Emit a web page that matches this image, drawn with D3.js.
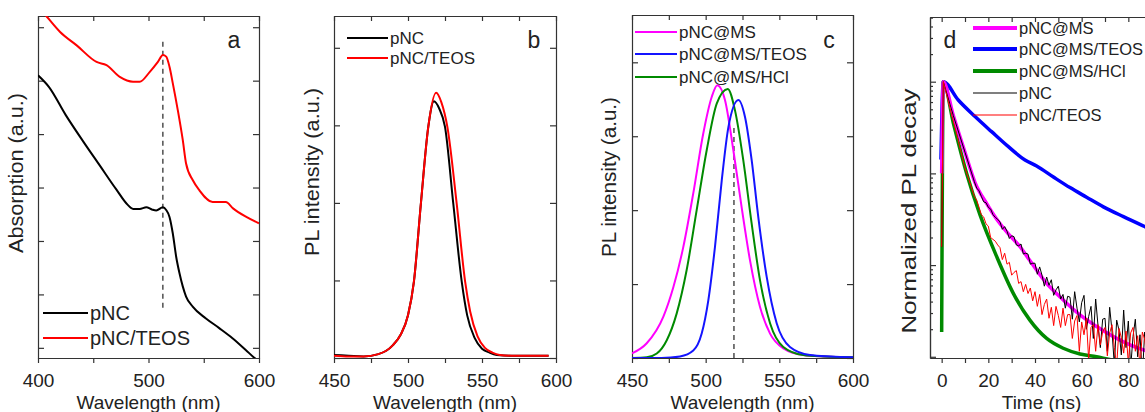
<!doctype html>
<html>
<head>
<meta charset="utf-8">
<script src="https://cdn.jsdelivr.net/npm/d3@7"></script>
<style>
    body { margin: 0; background: #fff; }
    text { font-family: "Liberation Sans", Arial, Helvetica, sans-serif; fill: #222; }
</style>
</head>
<body>
<svg width="1145" height="412"></svg>
<script>

// ---------- panel a : absorption ----------
var absPncWl  = [400, 410, 425, 441, 456, 471, 481, 486, 492, 498, 503, 507, 513, 516, 519, 522, 525, 528, 531, 534, 540, 552, 564, 576, 588, 596, 600];
var absPnc    = [5.10, 4.88, 4.36, 3.86, 3.41, 2.96, 2.68, 2.60, 2.60, 2.63, 2.59, 2.57, 2.63, 2.58, 2.45, 2.14, 1.71, 1.40, 1.15, 0.96, 0.77, 0.55, 0.37, 0.18, -0.04, -0.19, -0.25];
var absTeosWl = [400, 407.5, 420, 435, 453, 462, 474, 486, 492, 501, 508.5, 513, 516, 519, 522, 526.5, 531, 534, 540, 546, 558, 570, 576.5, 588.5, 600];
var absTeos   = [6.40, 6.21, 5.91, 5.66, 5.35, 5.29, 5.07, 4.98, 4.98, 5.16, 5.35, 5.48, 5.45, 5.26, 4.95, 4.45, 3.89, 3.45, 3.14, 2.95, 2.73, 2.73, 2.61, 2.45, 2.33];
var absMark = 513, absMarkRange = [0.75, 5.79];
var absXTicks = [400, 450, 500, 550, 600], absXLabels = [400, 500, 600];
var absYTicks = [0, 1, 2, 3, 4, 5, 6];

// ---------- panel b : PL of pNC ----------
var plPncWl  = [450, 460, 470, 480, 485, 490, 495, 500, 504, 508.7, 513.7, 517.5, 521, 525, 530.6, 536.3, 540, 545, 550, 555, 560, 570, 580, 595];
var plPnc    = [0.04, 0.03, 0.02, 0.05, 0.09, 0.17, 0.30, 0.55, 0.985, 1.99, 2.98, 3.31, 3.22, 2.98, 1.99, 0.985, 0.55, 0.26, 0.12, 0.07, 0.04, 0.03, 0.03, 0.03];
var plTeosWl = [450, 460, 470, 480, 485, 490, 495, 500, 504, 508.7, 513.7, 519, 522.5, 526.6, 532.9, 538.6, 542, 547, 552, 557, 562, 570, 580, 595];
var plTeos   = [0.03, 0.02, 0.02, 0.05, 0.09, 0.17, 0.30, 0.55, 0.985, 1.99, 2.98, 3.42, 3.30, 2.98, 1.99, 0.985, 0.60, 0.28, 0.13, 0.07, 0.04, 0.03, 0.03, 0.03];
var plXTicks = [450, 475, 500, 525, 550, 575, 600], plXLabels = [450, 500, 550, 600];
var plYTicks = [0, 1, 2, 3, 4];

// ---------- panel c : PL of pNC@MS ----------
var msWl    = [450, 460, 471.3, 478.1, 484.8, 491.6, 498.4, 504.1, 507.9, 513.1, 518.8, 524.4, 530.1, 536.9, 543.7, 552.7, 566.3, 580, 600];
var ms      = [0.063, 0.20, 0.56, 0.96, 1.50, 2.23, 3.04, 3.53, 3.69, 3.49, 2.81, 2.04, 1.32, 0.69, 0.33, 0.13, 0.04, 0.02, 0.01];
var msTeosWl = [450, 470, 482.6, 491.6, 497.3, 501.8, 506.3, 510.9, 515.4, 522.2, 526.7, 531.2, 535.7, 541.4, 548.2, 557.2, 570.8, 585, 600];
var msTeos   = [0, 0, 0.02, 0.10, 0.33, 0.78, 1.50, 2.40, 3.12, 3.49, 3.26, 2.68, 1.91, 1.10, 0.47, 0.15, 0.04, 0.02, 0.01];
var msHclWl  = [450, 460, 466.8, 473.6, 480.3, 487.1, 493.9, 500.7, 507.5, 515.0, 519.9, 525.5, 531.2, 536.9, 543.7, 552.7, 566.3, 580, 600];
var msHcl    = [0, 0.01, 0.06, 0.24, 0.60, 1.19, 2.00, 2.81, 3.44, 3.64, 3.35, 2.68, 1.82, 1.05, 0.47, 0.15, 0.04, 0.02, 0.01];
var msMark = 519.2, msMarkRange = [0, 3.13];

// ---------- panel d : PL decay (log10 of normalized counts) ----------
var decayXTicks = [0, 10, 20, 30, 40, 50, 60, 70, 80, 90, 100], decayXLabels = [0, 20, 40, 60, 80];
var decayYTicks = [0.001, 0.01, 0.1, 1];

var decMsT    = [0, 0.7, 5, 10, 14.3, 19.3, 23.6, 28.6, 33.6, 37.8, 45, 52.1, 59.3, 66.4, 73.6, 80.7, 87.1, 100];
var decMs     = [-1.0, 0, -0.37, -0.77, -1.1, -1.33, -1.5, -1.66, -1.8, -1.95, -2.2, -2.38, -2.544, -2.67, -2.78, -2.87, -2.93, -3.02];
var decTeosT  = [-0.3, 0.7, 7.1, 14.3, 21.4, 28.6, 35.7, 40.7, 47.9, 55, 62.1, 69.3, 77.9, 87.1, 100];
var decTeos   = [-0.85, 0, -0.2, -0.38, -0.545, -0.709, -0.854, -0.92, -1.04, -1.155, -1.26, -1.365, -1.472, -1.581, -1.73];
var decHclT   = [0, 0.7, 5, 10.7, 16.4, 23.6, 30.7, 37.8, 45, 52.1, 59.3, 66.4, 72, 100];
var decHcl    = [-2.73, 0, -0.45, -1.0, -1.45, -1.908, -2.308, -2.6, -2.8, -2.907, -2.97, -3.0, -3.03, -3.1];

var decNoisyT = [0, 0.7, 5, 10,
    14, 15, 16, 17, 18, 19, 20, 21, 22, 23, 24, 25, 26, 27, 28, 29, 30, 31, 32, 33, 34, 35, 36, 37, 38, 39,
    40, 41, 42, 43, 44, 45, 46, 47, 48, 49, 50, 51, 52, 53, 54, 55, 56, 57, 58, 59, 60, 61, 62, 63, 64, 65, 66, 67, 68, 69,
    70, 71, 72, 73, 74, 75, 76, 77, 78, 79, 80, 81, 82, 83, 84, 85, 86, 87, 88, 89, 90, 91, 92, 93, 94, 95, 96, 97, 98, 99, 100];
var decPnc = [-1.8, 0, -0.37, -0.77,
    -1.09, -1.16, -1.19, -1.25, -1.31, -1.32, -1.37, -1.39, -1.45, -1.48, -1.50,
    -1.53, -1.61, -1.58, -1.63, -1.71, -1.68, -1.69, -1.78, -1.79, -1.77, -1.88, -1.87, -1.88, -1.99, -1.98,
    -1.98, -2.10, -2.02, -2.11, -2.23, -2.13, -2.22, -2.16, -2.33, -2.27, -2.23, -2.37, -2.32, -2.47, -2.34,
    -2.35, -2.59, -2.29, -2.47, -2.62, -2.41, -2.33, -2.70, -2.56, -2.45, -2.80, -2.37, -2.66, -2.90, -2.59,
    -2.58, -2.94, -2.46, -2.72, -3.09, -2.60, -2.71, -2.98, -2.49, -2.90, -2.61, -3.12, -2.78, -2.59, -3.00, -2.76,
    -3.22, -2.73, -2.89, -2.60, -3.15, -2.86, -3.07, -2.72, -3.28, -2.84, -2.94, -3.20, -2.71, -3.06, -2.92];
var decPncTeos = [-1.8, 0, -0.43, -0.94,
    -1.25, -1.29, -1.37, -1.45, -1.475, -1.55, -1.575, -1.70, -1.72, -1.74, -1.78,
    -1.81, -1.94, -1.87, -1.99, -1.97, -2.11, -2.08, -2.06, -2.20, -2.18, -2.29, -2.21, -2.31, -2.25, -2.39,
    -2.29, -2.45, -2.32, -2.54, -2.43, -2.37, -2.58, -2.46, -2.66, -2.45, -2.55, -2.68, -2.47, -2.66, -2.54,
    -2.54, -2.80, -2.61, -2.55, -2.94, -2.62, -2.76, -2.58, -3.03, -2.68, -2.65, -2.94, -2.65, -2.87, -2.73,
    -2.68, -2.99, -2.74, -2.65, -2.90, -3.10, -2.69, -2.79, -2.96, -2.72, -3.07, -2.74, -2.68, -2.94, -2.77, -3.12,
    -2.73, -2.81, -3.01, -2.71, -2.91, -2.68, -3.11, -2.79, -2.74, -2.99, -2.72, -2.89, -3.09, -2.74, -2.84];

var svg = d3.select("svg");
var axisColor = "#333";

// frame with ticks on all four sides, returns a clipped group for the curves
function makePanel(name, x, y, opt) {
    var g = svg.append("g").attr("class", "panel-" + name);
    var xl = x.range()[0], xr = x.range()[1], yb = y.range()[0], yt = y.range()[1];

    g.append("clipPath").attr("id", "clip-" + name)
     .append("rect").attr("x", xl).attr("y", yt).attr("width", xr - xl).attr("height", yb - yt);

    g.append("g").attr("transform", "translate(0," + yb + ")")
     .call(d3.axisBottom(x).tickValues(opt.xTicks).tickSizeInner(5).tickSizeOuter(0).tickPadding(10.5)
           .tickFormat(function(d) { return opt.xLabels.indexOf(d) >= 0 ? d : ""; }));
    g.append("g").attr("transform", "translate(0," + yt + ")")
     .call(d3.axisTop(x).tickValues(opt.xTicks).tickSizeInner(-5).tickSizeOuter(0).tickFormat(""));
    g.append("g").attr("transform", "translate(" + xl + ",0)")
     .call(d3.axisLeft(y).tickValues(opt.yTicks).tickSizeInner(-6).tickSizeOuter(0).tickFormat(""));
    g.append("g").attr("transform", "translate(" + xr + ",0)")
     .call(d3.axisRight(y).tickValues(opt.yTicks).tickSizeInner(-6).tickSizeOuter(0).tickFormat(""));
    if (opt.minorY) {
        g.append("g").attr("transform", "translate(" + xl + ",0)")
         .call(d3.axisLeft(y).tickValues(opt.minorY).tickSizeInner(-3).tickSizeOuter(0).tickFormat(""));
    }

    g.selectAll(".domain, .tick line").attr("stroke", axisColor).attr("stroke-width", 1.2);
    g.selectAll(".tick text").attr("font-size", 19).attr("fill", "#222")
     .attr("font-family", "'Liberation Sans', Arial, sans-serif");

    g.append("text").attr("x", (xl + xr) / 2 + (opt.xTitleShift || 0)).attr("y", 408.5)
     .attr("text-anchor", "middle").attr("font-size", 19).text(opt.xTitle);
    g.append("text")
     .attr("transform", "translate(" + opt.yTitleX + "," + opt.yTitleY + ") rotate(-90)")
     .attr("text-anchor", "middle").attr("font-size", 20)
     .attr("textLength", opt.yTitleLen).attr("lengthAdjust", "spacingAndGlyphs")
     .text(opt.yTitle);
    g.append("text").attr("x", opt.letterX).attr("y", 48).attr("text-anchor", "middle")
     .attr("font-size", 23).text(opt.letter);

    return g.append("g").attr("clip-path", "url(#clip-" + name + ")");
}

function curve(plot, x, y, xs, ys, color, width, interp) {
    var line = d3.line()
        .x(function(d) { return x(d[0]); })
        .y(function(d) { return y(d[1]); })
        .curve(interp || d3.curveMonotoneX);
    plot.append("path").datum(d3.zip(xs, ys))
        .attr("fill", "none").attr("stroke", color).attr("stroke-width", width)
        .attr("stroke-linejoin", "round").attr("d", line);
}

function marker(plot, x, y, at, range) {
    plot.append("line")
        .attr("x1", x(at)).attr("x2", x(at)).attr("y1", y(range[0])).attr("y2", y(range[1]))
        .attr("stroke", "#333").attr("stroke-width", 1.3).attr("stroke-dasharray", "5,4");
}

function legend(items, x1, x2, ys, size) {
    var lg = svg.append("g");
    items.forEach(function(it, i) {
        lg.append("line").attr("x1", x1).attr("x2", x2).attr("y1", ys[i]).attr("y2", ys[i])
          .attr("stroke", it.color).attr("stroke-width", it.width);
        lg.append("text").attr("x", x2 + 2).attr("y", ys[i] + size * 0.36)
          .attr("font-size", size).text(it.label);
    });
}

// ---- a
var xa = d3.scaleLinear().domain([400, 600]).range([38, 259]);
var ya = d3.scaleLinear().domain([-0.19, 6.21]).range([358, 16]);
var pa = makePanel("a", xa, ya, {xTicks: absXTicks, xLabels: absXLabels, yTicks: absYTicks,
    xTitle: "Wavelength (nm)", yTitle: "Absorption (a.u.)", yTitleX: 23, yTitleY: 173, yTitleLen: 160,
    letter: "a", letterX: 234});
marker(pa, xa, ya, absMark, absMarkRange);
curve(pa, xa, ya, absPncWl, absPnc, "#000", 2);
curve(pa, xa, ya, absTeosWl, absTeos, "#ff0000", 2);
legend([{color: "#000", width: 2, label: "pNC"}, {color: "#ff0000", width: 2, label: "pNC/TEOS"}],
       43, 88, [313, 338], 20);

// ---- b
var xb = d3.scaleLinear().domain([450, 600]).range([334, 556]);
var yb = d3.scaleLinear().domain([0, 4.41]).range([358, 16]);
var pb = makePanel("b", xb, yb, {xTicks: plXTicks, xLabels: plXLabels, yTicks: plYTicks,
    xTitle: "Wavelength (nm)", yTitle: "PL intensity (a.u.)", yTitleX: 319, yTitleY: 172, yTitleLen: 168,
    letter: "b", letterX: 534});
curve(pb, xb, yb, plPncWl, plPnc, "#000", 2);
curve(pb, xb, yb, plTeosWl, plTeos, "#ff0000", 2);
legend([{color: "#000", width: 2, label: "pNC"}, {color: "#ff0000", width: 2, label: "pNC/TEOS"}],
       347, 388, [38, 58], 17);

// ---- c
var xc = d3.scaleLinear().domain([450, 600]).range([632, 853]);
var yc = d3.scaleLinear().domain([0, 4.64]).range([358, 15]);
var pc = makePanel("c", xc, yc, {xTicks: plXTicks, xLabels: plXLabels, yTicks: plYTicks,
    xTitle: "Wavelength (nm)", yTitle: "PL intensity (a.u.)", yTitleX: 616, yTitleY: 177, yTitleLen: 160,
    letter: "c", letterX: 829});
marker(pc, xc, yc, msMark, msMarkRange);
curve(pc, xc, yc, msWl, ms, "#ff00ff", 2);
curve(pc, xc, yc, msHclWl, msHcl, "#008a00", 2);
curve(pc, xc, yc, msTeosWl, msTeos, "#1414ff", 2);
legend([{color: "#ff00ff", width: 2, label: "pNC@MS"}, {color: "#1414ff", width: 2, label: "pNC@MS/TEOS"},
        {color: "#008a00", width: 2, label: "pNC@MS/HCl"}], 635, 677, [32, 54, 77], 17);

// ---- d
var xd = d3.scaleLinear().domain([-5, 100]).range([930, 1175]);
var yd = d3.scaleLog().domain([0.00097, 5.076]).range([358, 17]);
var minorY = [];
[0.0001, 0.001, 0.01, 0.1, 1].forEach(function(dec) {
    for (var k = 2; k <= 9; k++) {
        var v = dec * k;
        if (v > yd.domain()[0] && v < yd.domain()[1]) minorY.push(v);
    }
});
var pd = makePanel("d", xd, yd, {xTicks: decayXTicks, xLabels: decayXLabels, yTicks: decayYTicks, minorY: minorY,
    xTitle: "Time (ns)", xTitleShift: -11, yTitle: "Normalized PL decay", yTitleX: 916, yTitleY: 211, yTitleLen: 245,
    letter: "d", letterX: 950});
function pow10(a) { return a.map(function(e) { return Math.pow(10, e); }); }
curve(pd, xd, yd, decTeosT, pow10(decTeos), "#0000ff", 3.5);
curve(pd, xd, yd, decHclT, pow10(decHcl), "#008a00", 3.5);
curve(pd, xd, yd, decMsT, pow10(decMs), "#ff00ff", 3.5);
curve(pd, xd, yd, decNoisyT, pow10(decPnc), "#000", 1, d3.curveLinear);
curve(pd, xd, yd, decNoisyT, pow10(decPncTeos), "#ff0000", 1, d3.curveLinear);
legend([{color: "#ff00ff", width: 4, label: "pNC@MS"}, {color: "#0000ff", width: 4, label: "pNC@MS/TEOS"},
        {color: "#008a00", width: 4, label: "pNC@MS/HCl"}, {color: "#000", width: 1.2, label: "pNC"},
        {color: "#ff0000", width: 1.2, label: "pNC/TEOS"}], 973, 1017, [28, 49, 71, 93, 115], 16.5);

</script>
</body>
</html>
